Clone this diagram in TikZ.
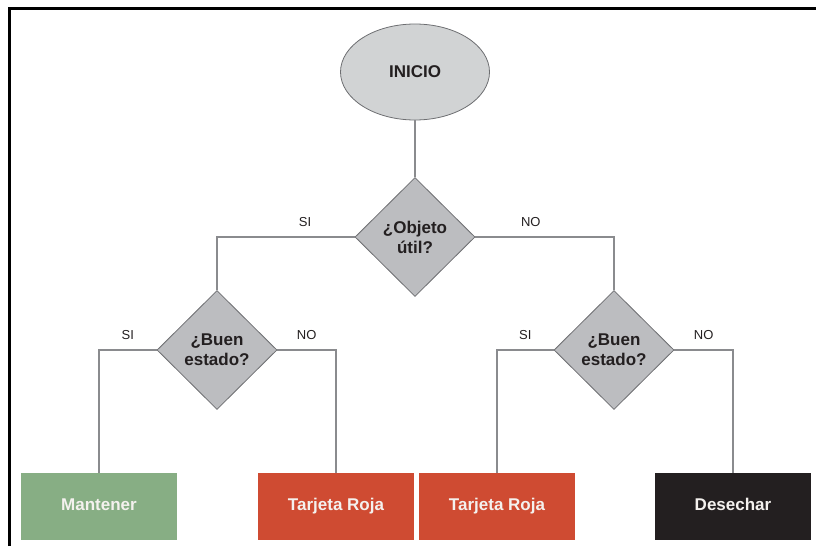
\documentclass[tikz,border=0pt]{standalone}
\usepackage{fontspec}
\setmainfont{Liberation Sans}
\usetikzlibrary{shapes.geometric}

\definecolor{grisInicio}{HTML}{D1D3D4}
\definecolor{grisPregunta}{HTML}{BCBDC0}
\definecolor{grisBorde}{HTML}{6D6E71}
\definecolor{grisRama}{HTML}{8A8B8E}
\definecolor{tinta}{HTML}{231F20}
\definecolor{verdeMantener}{HTML}{87AE84}
\definecolor{rojoTarjeta}{HTML}{CF4B32}
\definecolor{negroDesechar}{HTML}{231F20}
\definecolor{blancoTexto}{HTML}{F4F1EE}

\begin{document}
\begin{tikzpicture}[x=1pt, y=-1pt,
    inicio/.style={ellipse, draw=grisBorde, fill=grisInicio, line width=0.8pt,
      minimum width=149pt, minimum height=96pt, inner sep=0pt,
      font=\fontsize{17}{20}\selectfont\bfseries, text=tinta},
    pregunta/.style={diamond, draw=grisBorde, fill=grisPregunta, line width=0.8pt,
      minimum width=120pt, minimum height=119pt, inner sep=0pt, align=center,
      font=\fontsize{17}{20}\selectfont\bfseries, text=tinta},
    resultado/.style={rectangle, minimum width=156pt, minimum height=67pt,
      inner sep=0pt, text height=12pt, text depth=3.5pt,
      font=\fontsize{17}{20}\selectfont\bfseries, text=blancoTexto},
    rama/.style={draw=grisRama, line width=1.1pt},
    etiqueta/.style={above=6pt, font=\fontsize{13}{15}\selectfont, text=tinta}]
    \useasboundingbox (0,0) rectangle (816,546);

    % 枠
    \draw[line width=3pt] (9.5,546) -- (9.5,8.5) -- (816,8.5);

    % ノードの定義
    \node[inicio] (inicio) at (415, 72) {INICIO};
    \node[pregunta] (util) at (415, 237) {¿Objeto\\útil?};
    \node[pregunta] (buenoA) at (217, 350) {¿Buen\\estado?};
    \node[pregunta] (buenoB) at (614, 350) {¿Buen\\estado?};

    % 結果の四角
    \node[resultado, fill=verdeMantener] (mantener) at (99, 506.5) {Mantener};
    \node[resultado, fill=rojoTarjeta] (rojaA) at (336, 506.5) {Tarjeta Roja};
    \node[resultado, fill=rojoTarjeta] (rojaB) at (497, 506.5) {Tarjeta Roja};
    \node[resultado, fill=negroDesechar] (desechar) at (733, 506.5) {Desechar};

    % エッジの定義
    \draw[rama] (inicio.south) -- (util.north);
    \draw[rama] (util.west) -| node[etiqueta, pos=0.18] {SI} (buenoA.north);
    \draw[rama] (util.east) -| node[etiqueta, pos=0.2] {NO} (buenoB.north);
    \draw[rama] (buenoA.west) -| node[etiqueta, pos=0.25] {SI} (mantener.north);
    \draw[rama] (buenoA.east) -| node[etiqueta, pos=0.25] {NO} (rojaA.north);
    \draw[rama] (buenoB.west) -| node[etiqueta, pos=0.25] {SI} (rojaB.north);
    \draw[rama] (buenoB.east) -| node[etiqueta, pos=0.25] {NO} (desechar.north);
\end{tikzpicture}
\end{document}
